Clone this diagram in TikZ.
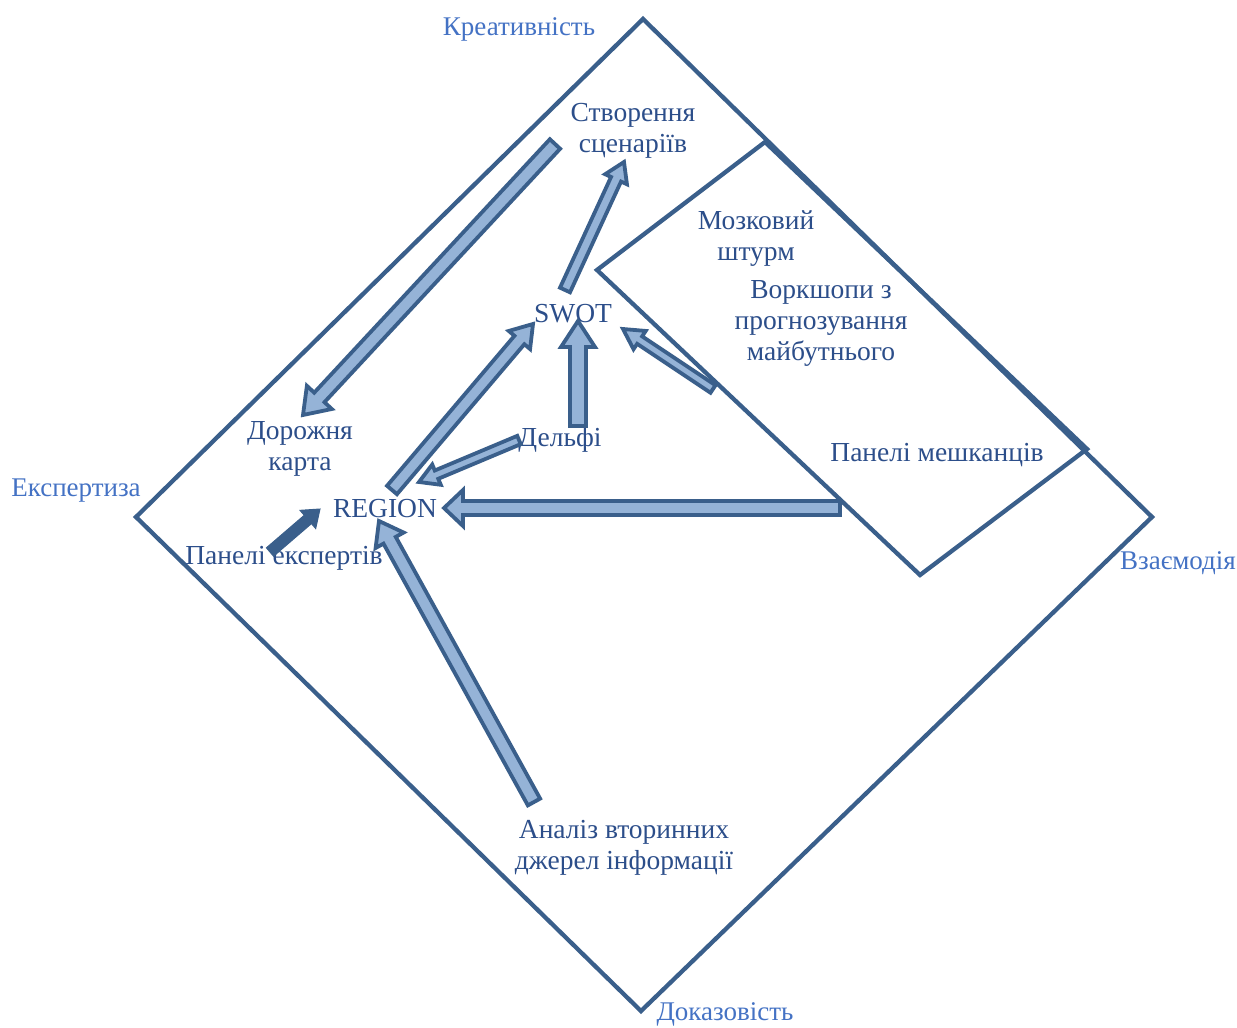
\documentclass[tikz,border=0pt]{standalone}
\usepackage{fontspec}
\setmainfont{Liberation Serif}
\usetikzlibrary{calc}
\definecolor{dk}{RGB}{58,95,139}
\definecolor{lt}{RGB}{149,179,215}
\definecolor{txt}{RGB}{44,78,138}
\definecolor{lbl}{RGB}{68,114,196}
\tikzset{
  frame/.style={draw=dk,line width=4.3pt,line join=miter},
  barrow/.style={draw=dk,fill=lt,line width=3.8pt,line join=miter},
  solidarrow/.style={draw=dk,fill=dk,line width=1pt,line join=miter},
  tx/.style={text=txt,font=\fontsize{27.5}{31}\selectfont,align=center,inner sep=0pt},
  corner/.style={text=lbl,font=\fontsize{27}{31}\selectfont,inner sep=0pt}
}
% #1 style, #2 start, #3 tip, #4 half shaft, #5 half head, #6 head length
\newcommand\blkarrow[6][barrow]{%
  \coordinate (bah) at ($(#3)!#6!(#2)$);
  \filldraw[#1] ($(#2)!#4!90:(#3)$) -- ($(bah)!#4!-90:(#2)$) -- ($(bah)!#5!-90:(#2)$)
    -- (#3) -- ($(bah)!#5!90:(#2)$) -- ($(bah)!#4!90:(#2)$) -- ($(#2)!#4!-90:(#3)$) -- cycle;
}
\begin{document}
\begin{tikzpicture}[x=1pt,y=-1pt]
\useasboundingbox (0,0) rectangle (1237,1028);
% main diamond
\coordinate (dT) at (643,19);
\coordinate (dR) at (1152,517);
\coordinate (dB) at (641,1011);
\coordinate (dL) at (136,517);
\draw[frame] (dT) -- (dR) -- (dB) -- (dL) -- cycle;
% inner parallelogram
\coordinate (pA) at (765,142);
\coordinate (pB) at (597,270);
\coordinate (pC) at (920,575);
\coordinate (pD) at (1087,449);
\draw[frame] (pA) -- (pB) -- (pC) -- (pD) -- cycle;
% corner labels
\node[corner] (kre) at (519,29) {Креативність};
\node[corner] (eks) at (76,491) {Експертиза};
\node[corner] (vza) at (1178,563) {Взаємодія};
\node[corner] (dok) at (725,1014) {Доказовість};
% text nodes
\node[tx] (scen) at (633,131) {Створення\\сценаріїв};
\node[tx] (mozk) at (756,239) {Мозковий\\штурм};
\node[tx] (vork) at (821,323) {Воркшопи з\\прогнозування\\майбутнього};
\node[tx] (pmes) at (937,455) {Панелі мешканців};
\node[tx] (swot) at (573,314) {SWOT};
\node[tx] (delf) at (560,440) {Дельфі};
\node[tx] (dor) at (300,449) {Дорожня\\карта};
\node[tx] (reg) at (385,509) {REGION};
\node[tx] (pexp) at (284,558) {Панелі експертів};
\node[tx] (anal) at (624,848) {Аналіз вторинних\\джерел інформації};
% arrow end points
\coordinate (a1s) at (555,144);  \coordinate (a1e) at (303,415);
\coordinate (a2s) at (565,290);  \coordinate (a2e) at (624,162);
\coordinate (a3s) at (392,490);  \coordinate (a3e) at (533,324);
\coordinate (a4s) at (578,426);  \coordinate (a4e) at (578,321);
\coordinate (a5s) at (713,389);  \coordinate (a5e) at (623,329);
\coordinate (a6s) at (519,440);  \coordinate (a6e) at (419,482);
\coordinate (a7s) at (840,508);  \coordinate (a7e) at (444,508);
\coordinate (a8s) at (270,552);  \coordinate (a8e) at (320,509);
\coordinate (a9s) at (534,802);  \coordinate (a9e) at (379,521);
% arrows
\blkarrow{a1s}{a1e}{7pt}{17pt}{24pt}
\blkarrow{a2s}{a2e}{5.5pt}{12pt}{19pt}
\blkarrow{a3s}{a3e}{6.5pt}{14pt}{21pt}
\blkarrow{a4s}{a4e}{8pt}{17pt}{26pt}
\blkarrow{a5s}{a5e}{4.5pt}{11pt}{20pt}
\blkarrow{a6s}{a6e}{4.5pt}{11pt}{19pt}
\blkarrow{a7s}{a7e}{7pt}{18pt}{19pt}
\blkarrow[solidarrow]{a8s}{a8e}{5.5pt}{12pt}{16pt}
\blkarrow{a9s}{a9e}{7pt}{16pt}{22pt}
\end{tikzpicture}
\end{document}
